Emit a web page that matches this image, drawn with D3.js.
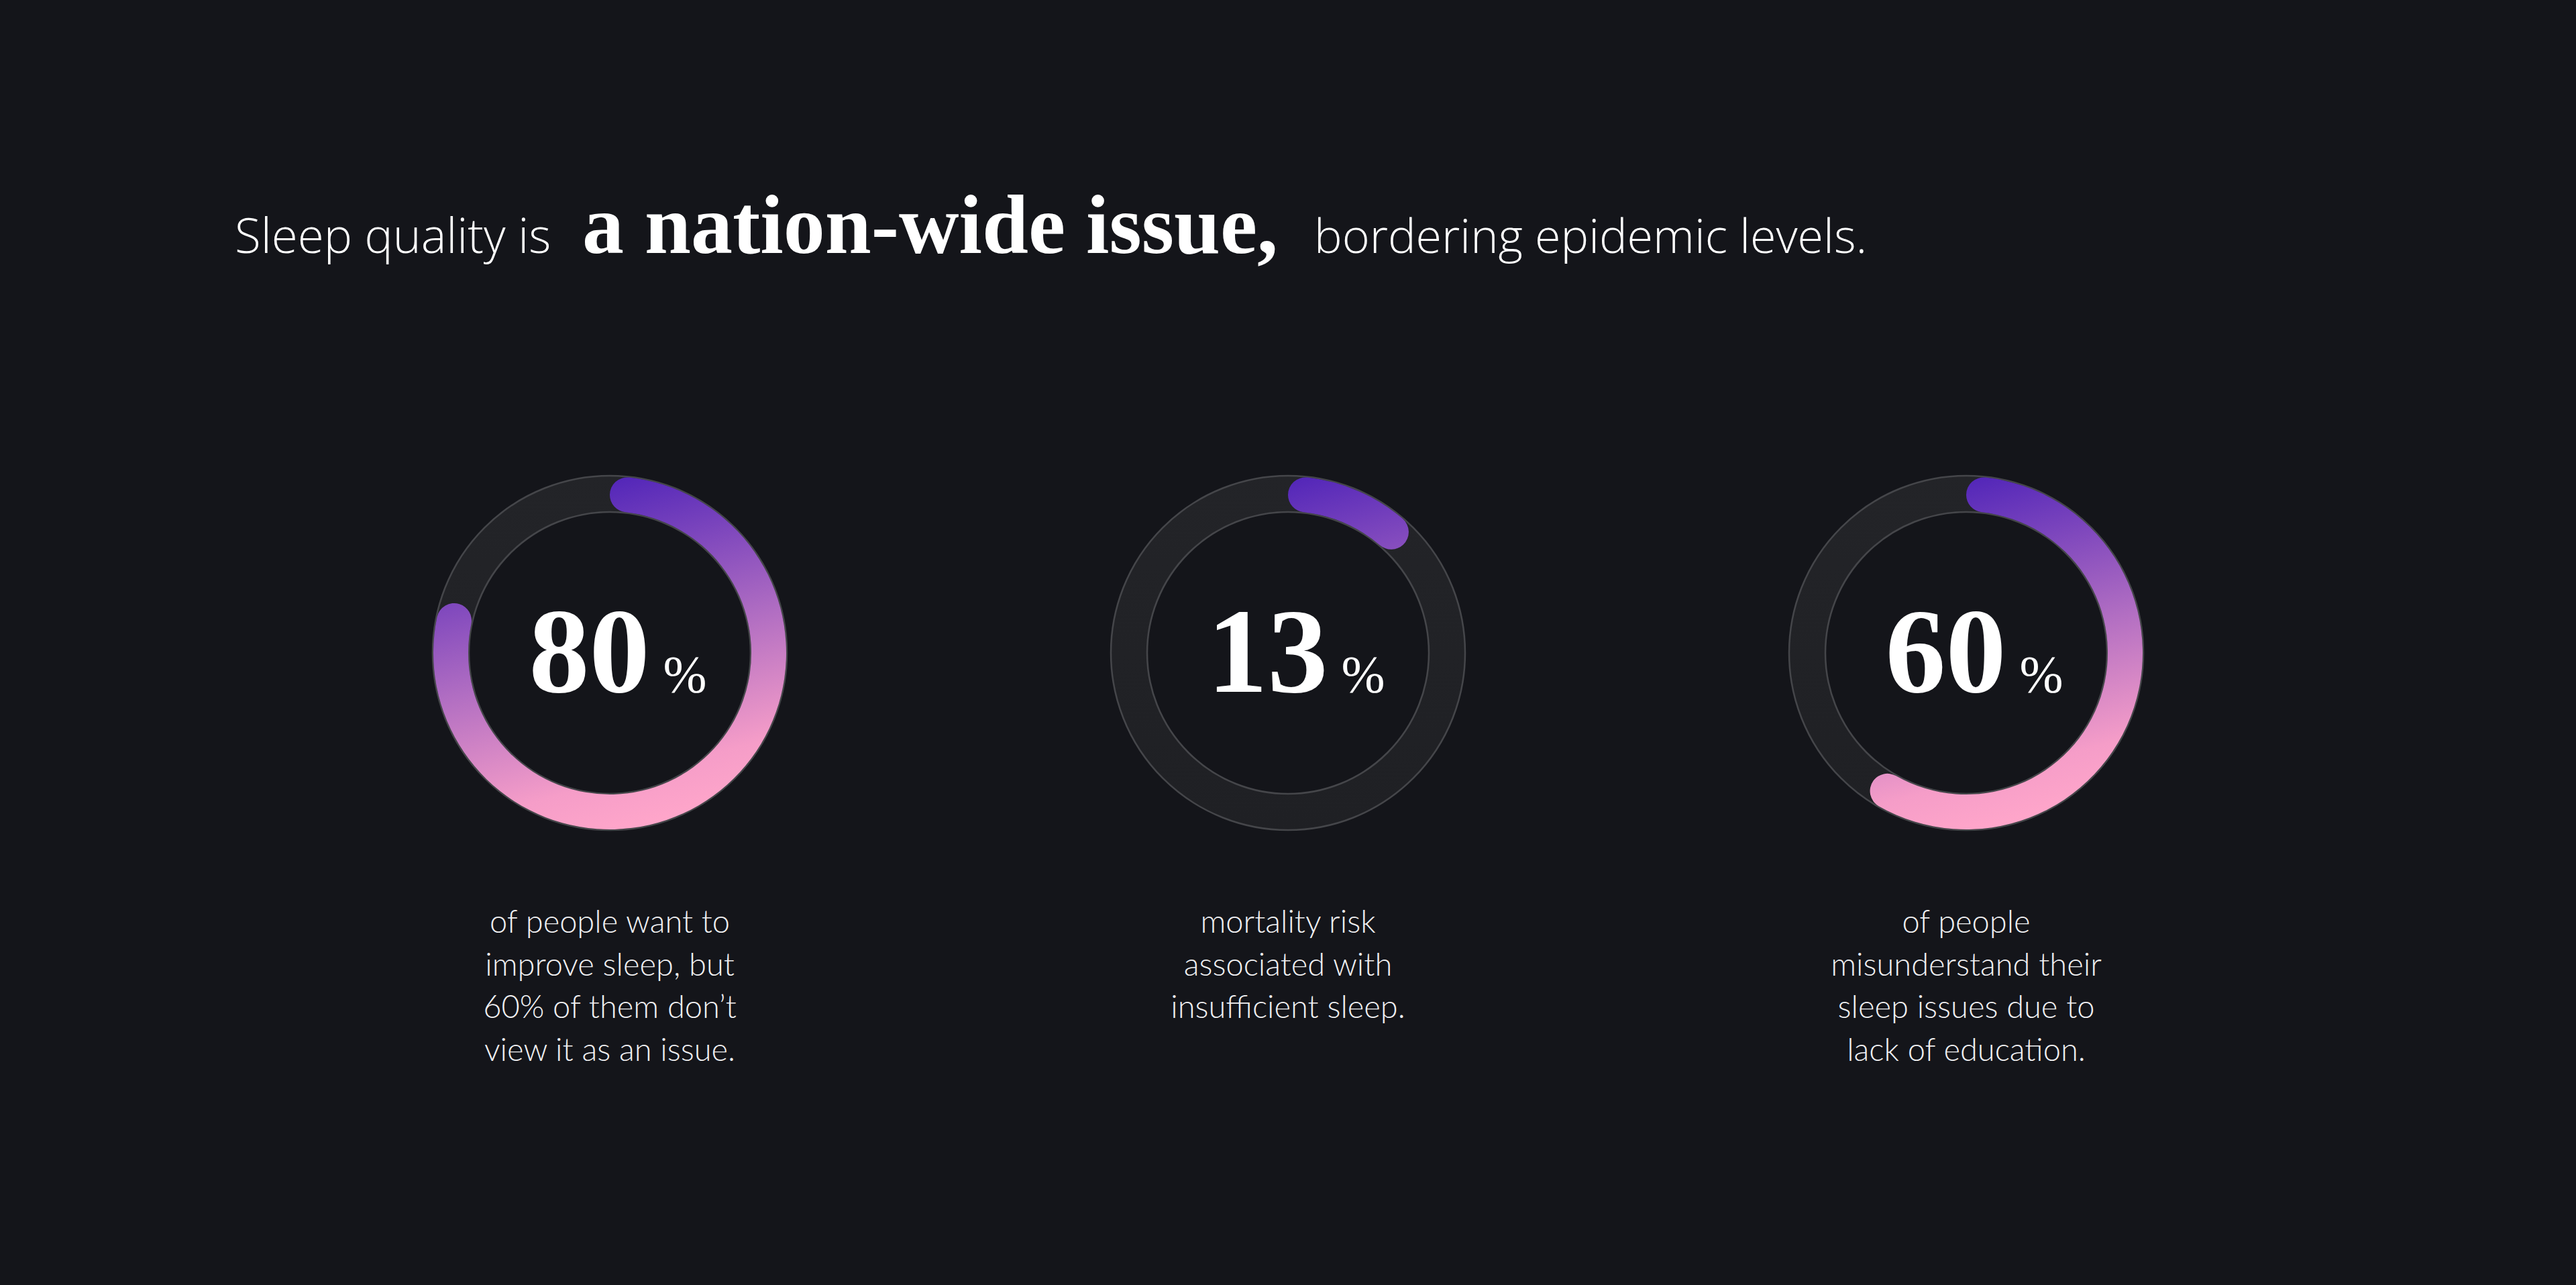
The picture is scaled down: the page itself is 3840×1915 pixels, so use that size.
<!DOCTYPE html>
<html><head><meta charset="utf-8">
<script src="https://cdn.jsdelivr.net/npm/d3@7"></script>
<style>
html,body{margin:0;padding:0;background:#14151a;}
svg{display:block;}
</style></head>
<body>
<svg id="chart" width="3840" height="1915"></svg>
<script>
// ---- data ----
const categories = ["wantImprove", "mortality", "misunderstand"];
const values = [80, 13, 60];
const valueLabels = ["80", "13", "60"];
const unitLabel = "%";
const captions = [
  ["of people want to", "improve sleep, but", "60% of them don\u2019t", "view it as an issue."],
  ["mortality risk", "associated with", "insufficient sleep."],
  ["of people", "misunderstand their", "sleep issues due to", "lack of education."]
];
const titleParts = ["Sleep quality is", "a nation-wide issue,", "bordering epidemic levels."];

// ---- layout ----
const W = 3840, H = 1915;
const svg = d3.select("#chart");
svg.append("rect").attr("width", W).attr("height", H).attr("fill", "#14151a");

const x = d3.scalePoint().domain(categories).range([909, 2931]);
const cy = 973;
const rOuter = 264, rInner = 210;
const angle = d3.scaleLinear().domain([0, 100]).range([0, 2 * Math.PI]);

const defs = svg.append("defs");
const tilt = 15 * Math.PI / 180;
const grad = defs.append("linearGradient")
  .attr("id", "ringGrad")
  .attr("gradientUnits", "userSpaceOnUse")
  .attr("x1", -rOuter * Math.sin(tilt)).attr("y1", -rOuter * Math.cos(tilt))
  .attr("x2", rOuter * Math.sin(tilt)).attr("y2", rOuter * Math.cos(tilt));
[[0, "#4d22b8"], [0.5, "#b06dc2"], [0.85, "#f59dc8"], [1, "#ffa6ca"]].forEach(([o, col]) =>
  grad.append("stop").attr("offset", o).attr("stop-color", col));

const trackGrad = defs.append("linearGradient")
  .attr("id", "trackGrad").attr("x1", 0).attr("y1", 0).attr("x2", 0).attr("y2", 1);
trackGrad.append("stop").attr("offset", 0).attr("stop-color", "#232428");
trackGrad.append("stop").attr("offset", 1).attr("stop-color", "#1f2024");

// title
const title = svg.append("text").attr("y", 377).attr("fill", "#ffffff");
title.append("tspan").attr("x", 350)
  .attr("font-family", "'Open Sans', sans-serif").attr("font-weight", 300).attr("font-size", 71)
  .text(titleParts[0]);
title.append("tspan").attr("x", 868)
  .attr("font-family", "'Liberation Serif', serif").attr("font-weight", 700).attr("font-size", 124)
  .text(titleParts[1]);
title.append("tspan").attr("x", 1959)
  .attr("font-family", "'Open Sans', sans-serif").attr("font-weight", 300).attr("font-size", 70)
  .text(titleParts[2]);

const trackArc = d3.arc().innerRadius(rInner).outerRadius(rOuter).startAngle(0).endAngle(2 * Math.PI);
const valueArc = d3.arc().innerRadius(rInner + 1).outerRadius(rOuter - 1).cornerRadius((rOuter - rInner) / 2);

const donut = svg.selectAll("g.donut").data(categories).join("g")
  .attr("class", "donut")
  .attr("transform", d => `translate(${x(d)},${cy})`);

donut.append("path").attr("d", trackArc())
  .attr("fill", "url(#trackGrad)").attr("stroke", "#45464a").attr("stroke-width", 2.5);

donut.append("path")
  .attr("class", "value")
  .attr("d", (d, i) => valueArc({ startAngle: 0, endAngle: angle(values[i]) }))
  .attr("fill", "url(#ringGrad)");

// numbers
const num = svg.selectAll("text.num").data(categories).join("text")
  .attr("class", "num")
  .attr("x", d => x(d) + 12).attr("y", cy + 58)
  .attr("text-anchor", "middle").attr("fill", "#ffffff");
num.append("tspan")
  .attr("font-family", "'Liberation Serif', serif").attr("font-weight", 700).attr("font-size", 180)
  .text((d, i) => valueLabels[i]);
num.append("tspan").attr("dx", 20)
  .attr("font-family", "'Liberation Serif', serif").attr("font-weight", 400).attr("font-size", 78)
  .text(unitLabel);

// captions
const cap = svg.selectAll("text.cap").data(categories).join("text")
  .attr("class", "cap")
  .attr("text-anchor", "middle").attr("fill", "#f0f0f2")
  .attr("font-family", "Lato, sans-serif").attr("font-weight", 300).attr("font-size", 47);
cap.each(function (d, i) {
  const t = d3.select(this);
  captions[i].forEach((line, j) => {
    t.append("tspan").attr("x", x(d)).attr("y", 1390 + j * 63.5).text(line);
  });
});
</script>
</body></html>
